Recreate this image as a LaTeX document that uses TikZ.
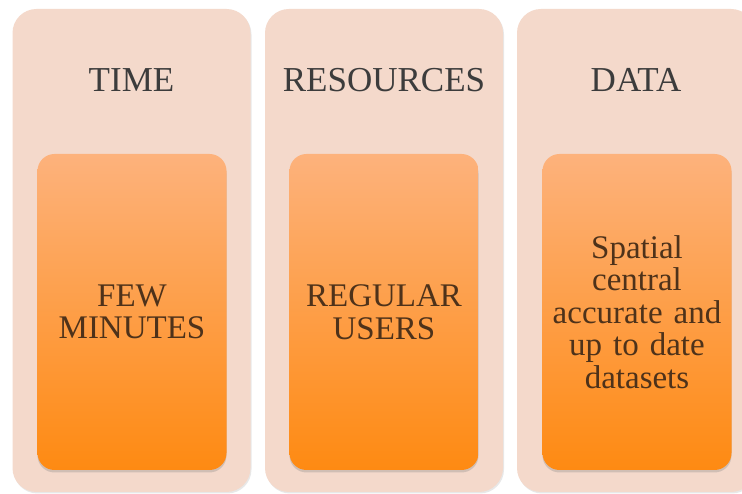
\documentclass[tikz,border=0pt]{standalone}
\usepackage{fontspec}
\setmainfont{Liberation Serif}
\usetikzlibrary{shadows}
\definecolor{outerfill}{HTML}{F4D9CB}
\definecolor{innertop}{HTML}{FDB27C}
\definecolor{innerbot}{HTML}{FE8A12}
\definecolor{headtext}{HTML}{3C3C3C}
\definecolor{innertext}{HTML}{4E321A}
\tikzset{
  outerbox/.style={draw=none, fill=outerfill, rounded corners=24pt,
    minimum width=238pt, minimum height=483pt, inner sep=0pt,
    drop shadow={opacity=0.18, shadow xshift=1pt, shadow yshift=-1.5pt}},
  innerbox/.style={draw=none, top color=innertop, bottom color=innerbot,
    rounded corners=17pt, minimum width=189pt, minimum height=316pt,
    text width=185pt, align=center, inner sep=0pt, text=innertext,
    font=\fontsize{33}{32.5}\selectfont,
    drop shadow={opacity=0.3, shadow xshift=0pt, shadow yshift=-2.5pt}},
  headlabel/.style={text=headtext, font=\fontsize{35}{38}\selectfont, inner sep=0pt}
}
\begin{document}
\begin{tikzpicture}[x=1pt,y=1pt]
\useasboundingbox (0,0) rectangle (742,494);
\fill[white] (0,0) rectangle (742,494);
\clip (0,0) rectangle (742,494);
\node[outerbox] (o1) at (131.5,243.5) {};
\node[outerbox] (o2) at (384,243.5) {};
\node[outerbox] (o3) at (636,243.5) {};
\node[headlabel] (h1) at (131.5,414) {TIME};
\node[headlabel] (h2) at (384,414) {RESOURCES};
\node[headlabel] (h3) at (636,414) {DATA};
\node[innerbox] (i1) at (132,182) {FEW\\MINUTES};
\node[innerbox] (i2) at (384,182) {REGULAR\\USERS};
\node[innerbox] (i3) at (637,182) {Spatial\\central\\accurate and\\up to date\\datasets};
\end{tikzpicture}
\end{document}
